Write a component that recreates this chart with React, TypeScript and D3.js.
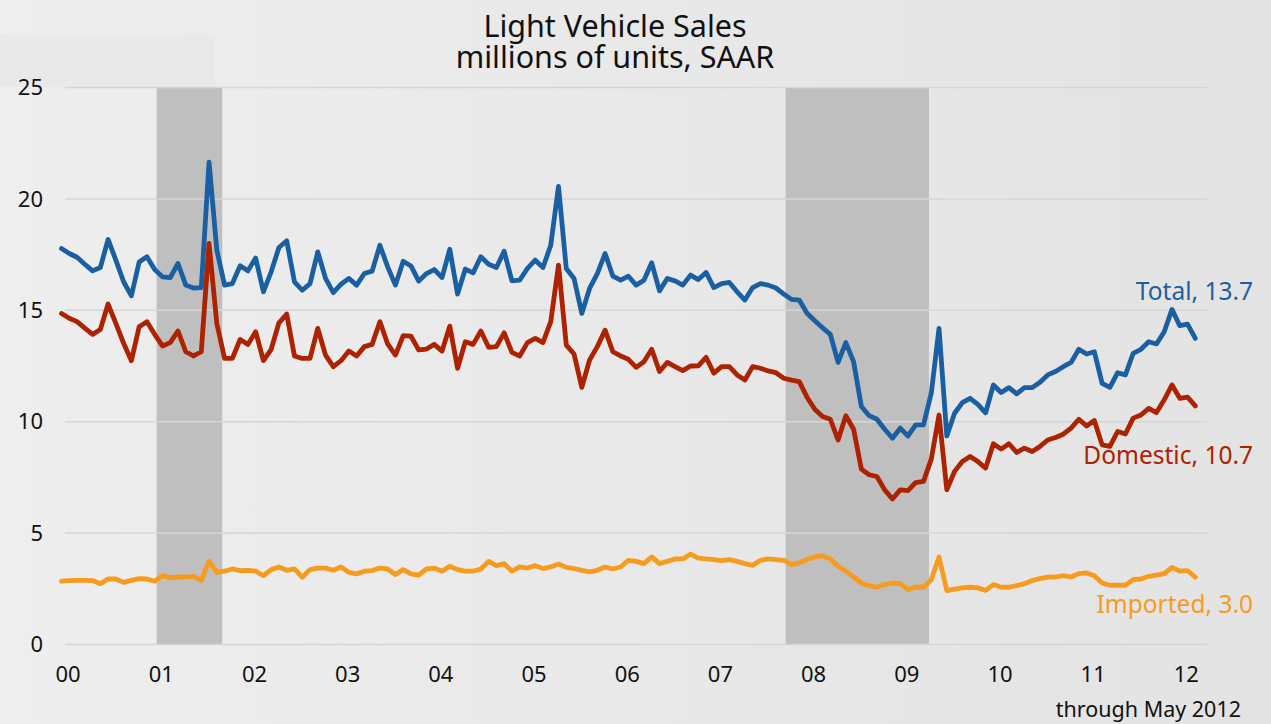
import React, { useRef, useEffect } from "react";
import * as d3 from "d3";

// monthly, Mar 2000 .. May 2012 (147 points), millions of units SAAR
const startMonth = new Date(2000, 2, 1);
const endMonth = new Date(2012, 5, 1);
const months = d3.timeMonth.range(startMonth, endMonth);

const total = [
  17.77, 17.55, 17.38, 17.07, 16.77, 16.92, 18.18, 17.25, 16.28, 15.65, 17.17, 17.4, 16.83, 16.5, 16.47, 17.1, 16.13, 16.0, 16.02, 21.65, 17.7, 16.13, 16.2, 17.0, 16.77,
  17.35, 15.83, 16.73, 17.82, 18.12, 16.28, 15.9, 16.2, 17.62, 16.43, 15.79, 16.17, 16.43, 16.13, 16.65, 16.76, 17.92, 16.95, 16.13, 17.2, 16.99, 16.31, 16.65, 16.83,
  16.47, 17.74, 15.73, 16.85, 16.68, 17.4, 17.07, 16.92, 17.65, 16.32, 16.35, 16.88, 17.25, 16.92, 17.92, 20.56, 16.88, 16.43, 14.86, 15.98, 16.65, 17.55, 16.53, 16.35,
  16.53, 16.13, 16.35, 17.13, 15.87, 16.43, 16.32, 16.13, 16.58, 16.38, 16.7, 16.02, 16.2, 16.25, 15.83, 15.46, 16.02, 16.2, 16.13, 16.0, 15.73, 15.49, 15.46, 14.87,
  14.53, 14.22, 13.92, 12.66, 13.55, 12.69, 10.68, 10.27, 10.11, 9.66, 9.26, 9.71, 9.36, 9.86, 9.86, 11.28, 14.19, 9.36, 10.38, 10.86, 11.05, 10.78, 10.4, 11.65,
  11.31, 11.53, 11.25, 11.53, 11.53, 11.77, 12.1, 12.25, 12.47, 12.66, 13.25, 13.04, 13.14, 11.72, 11.54, 12.2, 12.1, 13.07, 13.25, 13.59, 13.49, 14.04, 15.04, 14.31, 14.38, 13.74,
];

const domestic = [
  14.86, 14.64, 14.49, 14.2, 13.92, 14.14, 15.28, 14.41, 13.52, 12.74, 14.26, 14.49, 13.92, 13.4, 13.55, 14.07, 13.14, 12.95, 13.14, 18.0, 14.41, 12.84, 12.84, 13.69, 13.47,
  14.04, 12.74, 13.25, 14.44, 14.83, 12.95, 12.84, 12.84, 14.19, 12.99, 12.47, 12.74, 13.17, 12.95, 13.37, 13.47, 14.49, 13.49, 12.99, 13.86, 13.84, 13.22, 13.26, 13.47,
  13.17, 14.29, 12.4, 13.59, 13.47, 14.07, 13.34, 13.37, 13.99, 13.11, 12.95, 13.55, 13.74, 13.55, 14.49, 17.03, 13.44, 13.04, 11.54, 12.77, 13.37, 14.11, 13.14, 12.95,
  12.8, 12.44, 12.69, 13.25, 12.25, 12.66, 12.47, 12.29, 12.5, 12.51, 12.89, 12.18, 12.47, 12.47, 12.1, 11.87, 12.47, 12.4, 12.28, 12.2, 11.95, 11.87, 11.8, 11.1,
  10.56, 10.23, 10.11, 9.18, 10.27, 9.66, 7.87, 7.62, 7.54, 6.94, 6.53, 6.94, 6.91, 7.27, 7.32, 8.32, 10.3, 6.94, 7.77, 8.21, 8.44, 8.21, 7.92, 9.01,
  8.77, 9.01, 8.62, 8.81, 8.66, 8.89, 9.18, 9.29, 9.44, 9.71, 10.11, 9.81, 10.05, 8.96, 8.89, 9.56, 9.45, 10.16, 10.3, 10.6, 10.41, 10.98, 11.65, 11.05, 11.1, 10.71,
];

const imported = [
  2.84, 2.87, 2.88, 2.88, 2.87, 2.73, 2.94, 2.94, 2.79, 2.88, 2.96, 2.94, 2.84, 3.09, 2.99, 3.03, 3.02, 3.06, 2.88, 3.73, 3.24, 3.29, 3.39, 3.32, 3.33,
  3.29, 3.09, 3.36, 3.48, 3.33, 3.39, 3.02, 3.36, 3.43, 3.43, 3.33, 3.48, 3.24, 3.17, 3.29, 3.32, 3.43, 3.39, 3.14, 3.36, 3.17, 3.11, 3.39, 3.43,
  3.29, 3.51, 3.36, 3.29, 3.29, 3.39, 3.73, 3.54, 3.63, 3.29, 3.48, 3.43, 3.54, 3.41, 3.48, 3.61, 3.46, 3.41, 3.33, 3.26, 3.33, 3.48, 3.39, 3.48,
  3.78, 3.73, 3.63, 3.93, 3.63, 3.73, 3.84, 3.84, 4.06, 3.88, 3.84, 3.81, 3.76, 3.81, 3.73, 3.63, 3.55, 3.78, 3.84, 3.81, 3.78, 3.58, 3.66, 3.82,
  3.93, 3.99, 3.84, 3.51, 3.29, 3.03, 2.76, 2.64, 2.57, 2.69, 2.76, 2.73, 2.46, 2.58, 2.57, 2.91, 3.93, 2.42, 2.49, 2.54, 2.57, 2.54, 2.43, 2.69,
  2.57, 2.57, 2.64, 2.73, 2.87, 2.96, 3.02, 3.03, 3.09, 3.03, 3.18, 3.21, 3.09, 2.76, 2.66, 2.66, 2.66, 2.91, 2.94, 3.06, 3.11, 3.18, 3.46, 3.29, 3.32, 3.02,
];

const yTicks = [0, 5, 10, 15, 20, 25];
const yearLabels = ["00", "01", "02", "03", "04", "05", "06", "07", "08", "09", "10", "11", "12"];

// recessions, as [first month, last month]
const recessions = [
  [new Date(2001, 2, 1), new Date(2001, 10, 1)],
  [new Date(2007, 11, 1), new Date(2009, 5, 1)],
];

const series = [
  { name: "Total", values: total, color: "#1b5fa3", dy: -38 },
  { name: "Domestic", values: domestic, color: "#ad2200", dy: 58 },
  { name: "Imported", values: imported, color: "#f79b1e", dy: 36 },
];

const W = 1271;
const H = 724;
const FONT = "'Noto Sans', 'Open Sans', sans-serif";

const LightVehicleChart = () => {
  const svgRef = useRef<SVGSVGElement>(null);

  useEffect(() => {
    const svg = d3.select(svgRef.current);
    svg.selectAll("*").remove();

    const plotLeft = 65;
    const plotRight = 1207;

    const idx = (d: Date) => d3.timeMonth.count(startMonth, d);
    const x = d3.scaleLinear().domain([0, months.length - 1]).range([61.5, 1195.3]);
    const y = d3.scaleLinear().domain([0, 25]).range([644.5, 87.5]);

    // background
    const defs = svg.append("defs");
    const grad = defs.append("linearGradient").attr("id", "bg").attr("x1", "0").attr("x2", "1").attr("y1", "0").attr("y2", "0");
    grad.append("stop").attr("offset", "0").attr("stop-color", "#eeeeee");
    grad.append("stop").attr("offset", "1").attr("stop-color", "#e3e3e3");
    svg.append("rect").attr("width", W).attr("height", H).attr("fill", "url(#bg)");
    svg.append("rect").attr("x", 0).attr("y", 35).attr("width", 215).attr("height", 52).attr("fill", "#e6e6e6").attr("opacity", 0.6);

    // recession bands
    svg
      .append("g")
      .selectAll("rect")
      .data(recessions)
      .join("rect")
      .attr("x", (d) => x(idx(d[0]) + 0.25))
      .attr("width", (d) => x(idx(d[1]) + 0.7) - x(idx(d[0]) + 0.25))
      .attr("y", y(25))
      .attr("height", y(0) - y(25))
      .attr("fill", "#bfbfbf");

    // gridlines
    svg
      .append("g")
      .selectAll("line")
      .data(yTicks)
      .join("line")
      .attr("x1", plotLeft)
      .attr("x2", plotRight)
      .attr("y1", (d) => y(d))
      .attr("y2", (d) => y(d))
      .attr("stroke", "#d6d6d6")
      .attr("stroke-width", 1.5);

    // y labels
    svg
      .append("g")
      .selectAll("text")
      .data(yTicks)
      .join("text")
      .attr("x", 43)
      .attr("y", (d) => y(d))
      .attr("dy", "0.35em")
      .attr("text-anchor", "end")
      .attr("font-family", FONT)
      .attr("font-size", 22)
      .attr("fill", "#111")
      .text((d) => d);

    // x labels, one per year
    svg
      .append("g")
      .selectAll("text")
      .data(yearLabels)
      .join("text")
      .attr("x", (_d, i) => x(i * 12 + 0.85))
      .attr("y", 682)
      .attr("text-anchor", "middle")
      .attr("font-family", FONT)
      .attr("font-size", 22)
      .attr("fill", "#111")
      .text((d) => d);

    svg
      .append("text")
      .attr("x", 1241)
      .attr("y", 717)
      .attr("text-anchor", "end")
      .attr("font-family", FONT)
      .attr("font-size", 21.5)
      .attr("fill", "#111")
      .text("through May 2012");

    // lines
    const line = d3
      .line<number>()
      .x((_d, i) => x(i))
      .y((d) => y(d));

    series.forEach((s) => {
      svg
        .append("path")
        .datum(s.values)
        .attr("d", line)
        .attr("fill", "none")
        .attr("stroke", s.color)
        .attr("stroke-width", 4.8)
        .attr("stroke-linejoin", "round")
        .attr("stroke-linecap", "round");

      const last = s.values[s.values.length - 1];
      svg
        .append("text")
        .attr("x", 1253)
        .attr("y", y(last) + s.dy)
        .attr("text-anchor", "end")
        .attr("font-family", FONT)
        .attr("font-size", 24.5)
        .attr("fill", s.color)
        .text(`${s.name}, ${last.toFixed(1)}`);
    });

    // title
    const title = svg
      .append("text")
      .attr("text-anchor", "middle")
      .attr("font-family", FONT)
      .attr("font-size", 30.5)
      .attr("fill", "#111");
    title.append("tspan").attr("x", 615).attr("y", 37).text("Light Vehicle Sales");
    title.append("tspan").attr("x", 615).attr("y", 68).text("millions of units, SAAR");
  }, []);

  return (
    <svg
      ref={svgRef}
      width={W}
      height={H}
      style={{ position: "absolute", left: 0, top: 0, display: "block" }}
    />
  );
};

export default function App() {
  return <LightVehicleChart />;
}
